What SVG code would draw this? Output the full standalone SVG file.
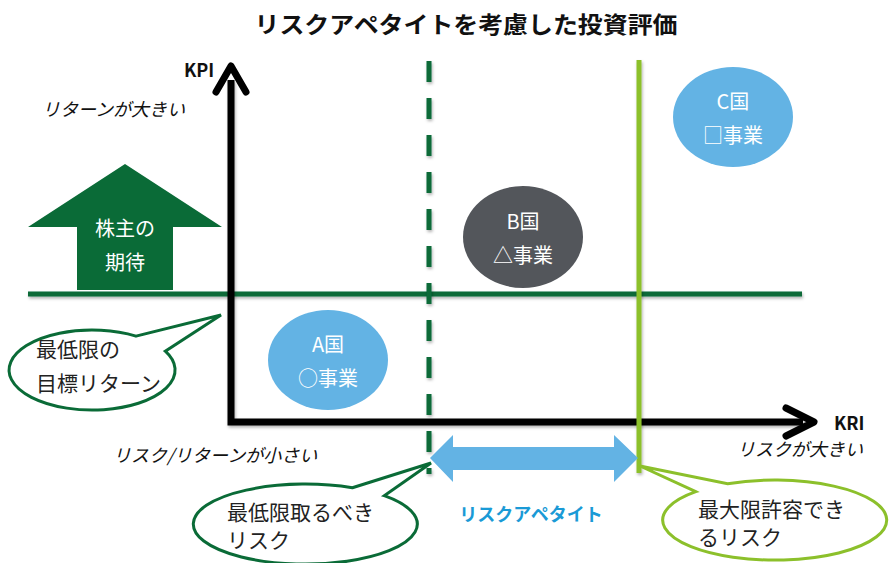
<svg xmlns="http://www.w3.org/2000/svg" width="889" height="563" viewBox="0 0 889 563">
<defs>
<filter id="sh" filterUnits="userSpaceOnUse" x="0" y="0" width="889" height="563">
<feDropShadow dx="1" dy="2" stdDeviation="1.5" flood-color="#000" flood-opacity="0.3"/>
</filter>
</defs>
<style>
text{font-family:"Noto Sans CJK JP","Noto Sans",sans-serif;}
.t{font-size:21px;fill:#222;}
.w{font-size:20px;fill:#fff;text-anchor:middle;}
.i{font-size:18px;font-style:italic;fill:#111;}
.b{font-weight:bold;font-size:18px;fill:#111;}
.dg{stroke:#0a6b37;}
.co{fill:#fff;stroke-width:3;stroke-linejoin:miter;}
</style>
<rect width="889" height="563" fill="#fff"/>
<text x="466" y="33" text-anchor="middle" font-size="23" font-weight="bold" fill="#111" textLength="423" lengthAdjust="spacingAndGlyphs">リスクアペタイトを考慮した投資評価</text>

<g id="connectors">
<line x1="28" y1="294" x2="802" y2="294" class="dg" stroke-width="5" filter="url(#sh)"/>
<path d="M231,80 V422 H803" fill="none" stroke="#000" stroke-width="7" stroke-linejoin="miter" filter="url(#sh)"/>
<polyline points="216,92 231,66 246,92" fill="none" stroke="#000" stroke-width="7" stroke-linecap="round" stroke-linejoin="round"/>
<polyline points="786,408 814,422 786,436" fill="none" stroke="#000" stroke-width="7" stroke-linecap="round" stroke-linejoin="round"/>
<line x1="429" y1="61" x2="429" y2="474" class="dg" stroke-width="5" stroke-dasharray="21,16" filter="url(#sh)"/>
<line x1="639" y1="60" x2="639" y2="473" stroke="#8cc02b" stroke-width="5" filter="url(#sh)"/>
</g>

<g id="axis-labels">
<text x="184" y="77" class="b">KPI</text>
<text x="42" y="116" class="i">リターンが大きい</text>
<text x="113" y="462" class="i">リスク/リターンが小さい</text>
<text x="834" y="430" class="b">KRI</text>
<text x="737" y="456" class="i">リスクが大きい</text>
</g>

<g id="shareholder">
<polygon points="125,164 222,227 173,227 173,290 77,290 77,227 28,227" fill="#0a6b37"/>
<text x="125" y="236" class="w" font-size="21">株主の</text>
<text x="125" y="270" class="w" font-size="21">期待</text>
</g>

<g id="countryA">
<ellipse cx="328" cy="360" rx="60" ry="50" fill="#63b3e4"/>
<text x="328" y="352" class="w">A国</text>
<text x="328" y="386" class="w">○事業</text>
</g>
<g id="countryB">
<ellipse cx="523" cy="237" rx="60" ry="51" fill="#53565b"/>
<text x="523" y="229" class="w">B国</text>
<text x="523" y="263" class="w">△事業</text>
</g>
<g id="countryC">
<ellipse cx="733" cy="117" rx="60" ry="50" fill="#63b3e4"/>
<text x="733" y="109" class="w">C国</text>
<text x="733" y="143" class="w">□事業</text>
</g>

<g id="appetite">
<polygon points="430,458 453,435 453,447 614,447 614,435 638,458 614,482 614,470 453,470 453,482" fill="#63b3e4"/>
<text x="531" y="521" text-anchor="middle" font-size="18" font-weight="bold" fill="#1a9ad6">リスクアペタイト</text>
</g>

<g id="callout-min-return">
<path d="M136,336.1 L221,315 L165.3,351.2 A83,40 0 1 1 136,336.1 Z" class="co dg"/>
<text x="36" y="357" class="t">最低限の</text>
<text x="36" y="391" class="t">目標リターン</text>
</g>

<g id="callout-min-risk">
<path d="M352.4,487.8 L431,463 L384.2,495.7 A112,40 0 1 1 352.4,487.8 Z" class="co dg"/>
<text x="227" y="520" class="t">最低限取るべき</text>
<text x="227" y="548" class="t">リスク</text>
</g>

<g id="callout-max-risk">
<path d="M695.8,491.7 L640,466 L727.6,483.8 A112,40 0 1 1 695.8,491.7 Z" class="co" stroke="#8cc02b"/>
<text x="698" y="517" class="t" font-size="22">最大限許容でき</text>
<text x="698" y="545" class="t" font-size="22">るリスク</text>
</g>
</svg>
